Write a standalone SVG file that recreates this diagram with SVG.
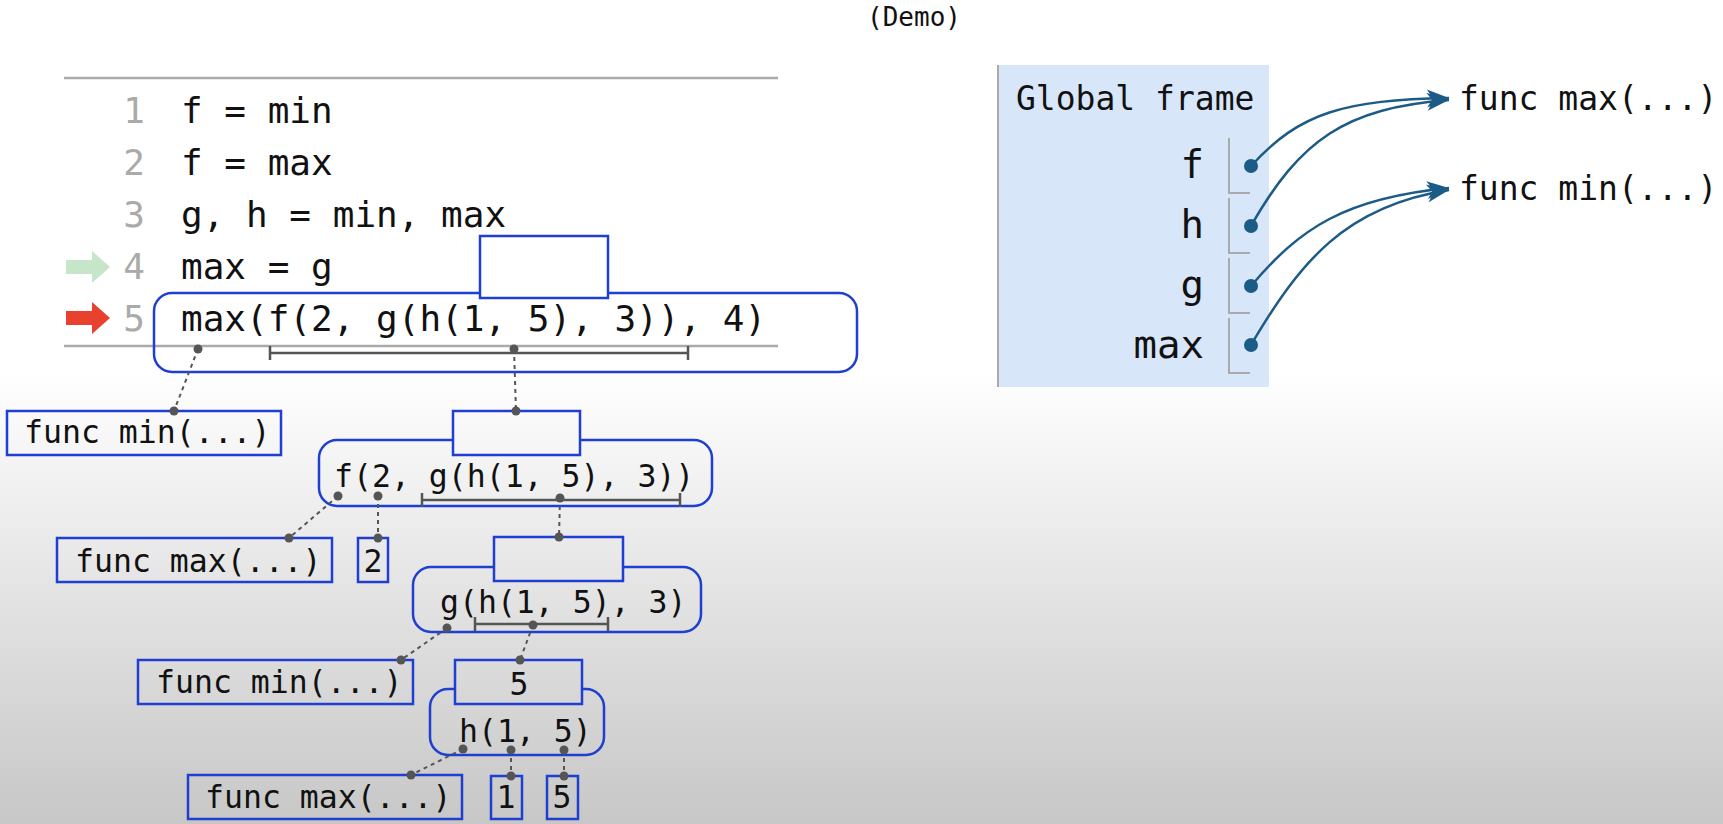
<svg xmlns="http://www.w3.org/2000/svg" width="1723" height="824" viewBox="0 0 1723 824">
<defs>
<linearGradient id="bg" x1="0" y1="0" x2="0" y2="824" gradientUnits="userSpaceOnUse">
<stop offset="0" stop-color="#ffffff"/>
<stop offset="0.45" stop-color="#ffffff"/>
<stop offset="1" stop-color="#c7c7c7"/>
</linearGradient>
<marker id="ah" markerWidth="26" markerHeight="22" refX="24" refY="11" orient="auto" markerUnits="userSpaceOnUse">
<path d="M2,2 L24,11 L2,20 L8,11 Z" fill="#1d5b87"/>
</marker>
<style>
.mono{font-family:"DejaVu Sans Mono","Liberation Mono",monospace;fill:#111}
.code{font-size:36px}
.ln{font-size:36px;fill:#aaaaaa}
.tree{font-size:31.5px}
.gf{font-size:33px}
.var{font-size:39px}
.rule{stroke:#aaaaaa;stroke-width:2.5}
.bx{fill:none;stroke:#1f3fd0;stroke-width:2.5}
.vbx{fill:url(#bg);stroke:#1f3fd0;stroke-width:2.5}
.dash{stroke:#555;stroke-width:2;stroke-dasharray:4,4;fill:none}
.dot{fill:#555}
.brk{stroke:#555;stroke-width:2.5;fill:none}
.slot{stroke:#aaaaaa;stroke-width:2;fill:none}
.ptr{stroke:#1d5b87;stroke-width:2.5;fill:none}
.pdot{fill:#1d5b87}
</style>
</defs>
<rect x="0" y="0" width="1723" height="824" fill="url(#bg)"/>
<text class="mono" x="914" y="26" font-size="26" text-anchor="middle">(Demo)</text>

<g id="code">
<line class="rule" x1="64" y1="78" x2="778" y2="78"/>
<line class="rule" x1="64" y1="346" x2="778" y2="346"/>
<text class="mono ln" x="134" y="123" text-anchor="middle">1</text>
<text class="mono ln" x="134" y="175" text-anchor="middle">2</text>
<text class="mono ln" x="134" y="227" text-anchor="middle">3</text>
<text class="mono ln" x="134" y="279" text-anchor="middle">4</text>
<text class="mono ln" x="134" y="331" text-anchor="middle">5</text>
<text class="mono code" x="181" y="123">f = min</text>
<text class="mono code" x="181" y="175">f = max</text>
<text class="mono code" x="181" y="227">g, h = min, max</text>
<text class="mono code" x="181" y="279">max = g</text>
<path d="M66,260 L92,260 L92,251 L110,267 L92,283 L92,274 L66,274 Z" fill="#c6e5c9"/>
<path d="M66,311 L92,311 L92,302 L110,318 L92,334 L92,325 L66,325 Z" fill="#e8422e"/>
</g>

<g id="expr1">
<rect class="bx" x="154" y="293" width="703" height="79" rx="18"/>
<rect class="vbx" x="480" y="236" width="128" height="62"/>
<text class="mono code" x="181" y="331">max(f(2, g(h(1, 5), 3)), 4)</text>
<path class="brk" d="M270,346 V360 M270,353 H688 M688,346 V360"/>
</g>

<g id="fmin1">
<rect class="bx" x="7" y="411" width="274" height="44"/>
<text class="mono tree" x="24" y="443">func min(...)</text>
</g>

<g id="expr2">
<rect class="bx" x="319" y="440" width="393" height="66" rx="18"/>
<rect class="vbx" x="453" y="411" width="127" height="44"/>
<text class="mono tree" x="334" y="487">f(2, g(h(1, 5), 3))</text>
<path class="brk" d="M422,493 V507 M422,500 H680 M680,493 V507"/>
</g>

<g id="fmax2">
<rect class="bx" x="57" y="538" width="275" height="44"/>
<text class="mono tree" x="75" y="572">func max(...)</text>
</g>

<g id="num2">
<rect class="bx" x="358" y="538" width="30" height="44"/>
<text class="mono tree" x="373" y="572" text-anchor="middle">2</text>
</g>

<g id="expr3">
<rect class="bx" x="413" y="567" width="288" height="65" rx="18"/>
<rect class="vbx" x="494" y="537" width="129" height="44"/>
<text class="mono tree" x="440" y="613">g(h(1, 5), 3)</text>
<path class="brk" d="M475,617 V631 M475,624 H608 M608,617 V631"/>
</g>

<g id="fmin3">
<rect class="bx" x="138" y="660" width="275" height="44"/>
<text class="mono tree" x="156" y="693">func min(...)</text>
</g>

<g id="expr4">
<rect class="bx" x="430" y="689" width="174" height="66" rx="18"/>
<rect class="vbx" x="455" y="660" width="127" height="44"/>
<text class="mono tree" x="519" y="695" text-anchor="middle">5</text>
<text class="mono tree" x="459" y="742">h(1, 5)</text>
</g>

<g id="fmax4">
<rect class="bx" x="188" y="775" width="274" height="44"/>
<text class="mono tree" x="205" y="808">func max(...)</text>
</g>

<g id="num1">
<rect class="bx" x="491" y="776" width="31" height="43"/>
<text class="mono tree" x="506" y="808" text-anchor="middle">1</text>
</g>

<g id="num5">
<rect class="bx" x="547" y="776" width="31" height="43"/>
<text class="mono tree" x="562" y="808" text-anchor="middle">5</text>
</g>

<g id="global-frame">
<rect x="998" y="65" width="271" height="322" fill="#d8e6fa"/>
<line x1="998" y1="65" x2="998" y2="387" stroke="#aaaaaa" stroke-width="2"/>
<text class="mono gf" x="1016" y="110">Global frame</text>
<text class="mono var" x="1204" y="178" text-anchor="end">f</text>
<text class="mono var" x="1204" y="238" text-anchor="end">h</text>
<text class="mono var" x="1204" y="298" text-anchor="end">g</text>
<text class="mono var" x="1204" y="358" text-anchor="end">max</text>
<path class="slot" d="M1229,138 V193 H1250"/>
<path class="slot" d="M1229,198 V253 H1250"/>
<path class="slot" d="M1229,258 V313 H1250"/>
<path class="slot" d="M1229,318 V373 H1250"/>
</g>

<g id="func-max">
<text class="mono gf" x="1459" y="110">func max(...)</text>
</g>
<g id="func-min">
<text class="mono gf" x="1459" y="200">func min(...)</text>
</g>

<g id="connectors">
<line class="dash" x1="198" y1="349" x2="174" y2="411"/>
<line class="dash" x1="514" y1="349" x2="516" y2="411"/>
<line class="dash" x1="338" y1="496" x2="289" y2="538"/>
<line class="dash" x1="378" y1="496" x2="378" y2="538"/>
<line class="dash" x1="560" y1="498" x2="559" y2="537"/>
<line class="dash" x1="447" y1="628" x2="401" y2="660"/>
<line class="dash" x1="533" y1="625" x2="520" y2="660"/>
<line class="dash" x1="463" y1="749" x2="411" y2="775"/>
<line class="dash" x1="511" y1="750" x2="511" y2="776"/>
<line class="dash" x1="564" y1="750" x2="564" y2="776"/>
<circle class="dot" cx="198" cy="349" r="4.5"/>
<circle class="dot" cx="514" cy="349" r="4.5"/>
<circle class="dot" cx="174" cy="411" r="4.5"/>
<circle class="dot" cx="516" cy="411" r="4.5"/>
<circle class="dot" cx="338" cy="496" r="4.5"/>
<circle class="dot" cx="378" cy="496" r="4.5"/>
<circle class="dot" cx="560" cy="498" r="4.5"/>
<circle class="dot" cx="289" cy="538" r="4.5"/>
<circle class="dot" cx="378" cy="538" r="4.5"/>
<circle class="dot" cx="559" cy="537" r="4.5"/>
<circle class="dot" cx="447" cy="628" r="4.5"/>
<circle class="dot" cx="533" cy="625" r="4.5"/>
<circle class="dot" cx="401" cy="660" r="4.5"/>
<circle class="dot" cx="520" cy="660" r="4.5"/>
<circle class="dot" cx="463" cy="749" r="4.5"/>
<circle class="dot" cx="511" cy="750" r="4.5"/>
<circle class="dot" cx="564" cy="750" r="4.5"/>
<circle class="dot" cx="411" cy="775" r="4.5"/>
<circle class="dot" cx="511" cy="776" r="4.5"/>
<circle class="dot" cx="564" cy="776" r="4.5"/>
<path class="ptr" d="M1251,166 C1300,112 1345,100 1449,98" marker-end="url(#ah)"/>
<path class="ptr" d="M1251,226 C1300,140 1345,108 1449,100" marker-end="url(#ah)"/>
<path class="ptr" d="M1251,286 C1300,228 1345,198 1449,188" marker-end="url(#ah)"/>
<path class="ptr" d="M1251,345 C1300,262 1345,206 1449,190" marker-end="url(#ah)"/>
<circle class="pdot" cx="1251" cy="166" r="7"/>
<circle class="pdot" cx="1251" cy="226" r="7"/>
<circle class="pdot" cx="1251" cy="286" r="7"/>
<circle class="pdot" cx="1251" cy="345" r="7"/>
</g>
</svg>
